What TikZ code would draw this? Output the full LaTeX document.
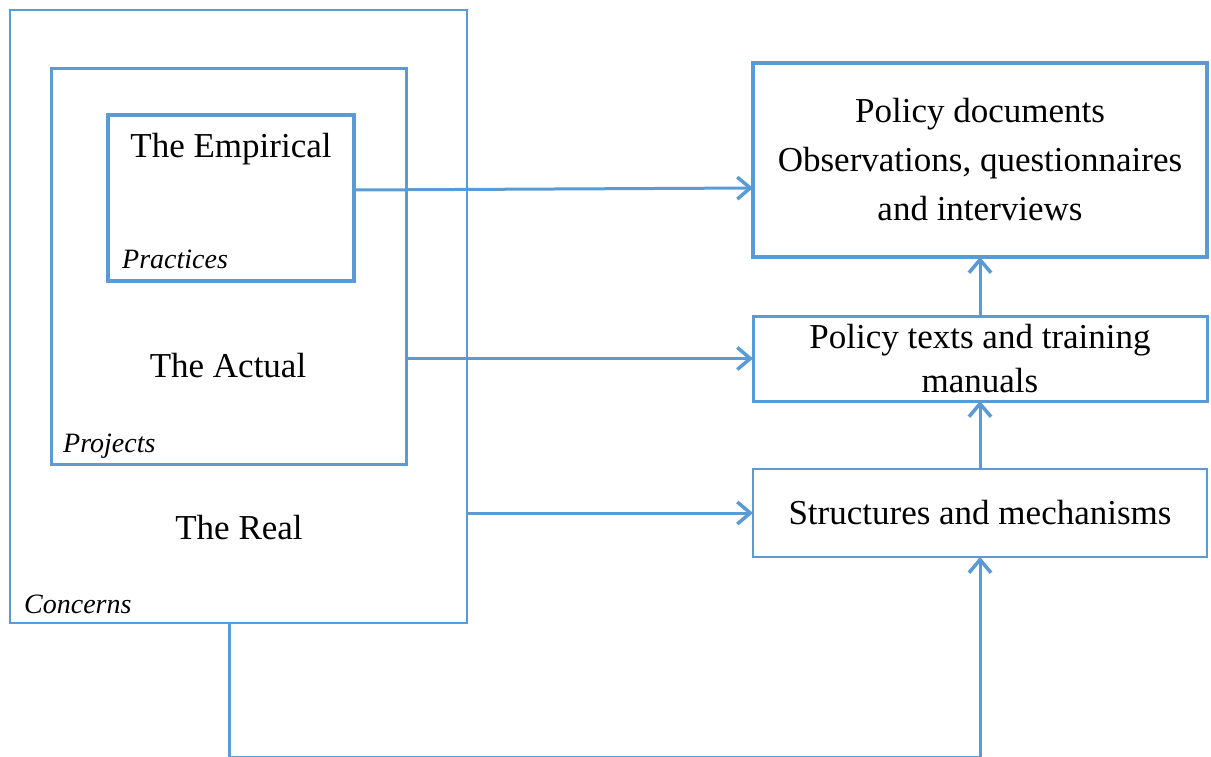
\documentclass[tikz,border=0pt]{standalone}
\usepackage{fontspec}
\setmainfont{Liberation Serif}
\usetikzlibrary{arrows.meta}
\definecolor{frameblue}{HTML}{5B9BD5}
\begin{document}
\begin{tikzpicture}[x=1pt,y=-1pt,
  box/.style={draw=frameblue, rectangle, inner sep=0pt, outer sep=0pt, anchor=north west},
  tbox/.style={box, align=center, font=\fontsize{35}{44}\selectfont},
  lbl/.style={inner sep=0pt, font=\fontsize{35}{40}\selectfont, anchor=base},
  ital/.style={inner sep=0pt, font=\fontsize{28}{32}\selectfont\itshape, anchor=base west},
  conn/.style={draw=frameblue, line width=3pt,
    -{Straight Barb[length=13pt,width=22pt,line width=3.5pt]}}
]
\useasboundingbox (0,0) rectangle (1211,756);

% nested levels of reality
\node[box, line width=1.5pt, minimum width=457pt, minimum height=613pt] (real) at (10,10) {};
\node[box, line width=3pt, minimum width=355pt, minimum height=396pt] (actual) at (51,68) {};
\node[box, line width=4.5pt, minimum width=246pt, minimum height=166pt] (empirical) at (108,115) {};

\node[lbl] (empl) at (231,157) {The Empirical};
\node[lbl] (actl) at (228,377) {The Actual};
\node[lbl] (reall) at (239,539) {The Real};
\node[ital] (practices) at (122,268) {Practices};
\node[ital] (projects) at (63,452) {Projects};
\node[ital] (concerns) at (24,613) {Concerns};

% data sources
\node[tbox, line width=4.5pt, minimum width=454pt, minimum height=194pt,
      font=\fontsize{35}{49}\selectfont] (top) at (753,63)
  {Policy documents\\Observations, questionnaires\\and interviews};
\node[tbox, line width=3pt, minimum width=454pt, minimum height=85pt] (mid) at (753,316)
  {Policy texts and training\\manuals};
\node[tbox, line width=1.5pt, minimum width=454pt, minimum height=88pt] (bot) at (753,469)
  {Structures and mechanisms};

% connectors
\draw[conn] ([yshift=8pt]empirical.east) -- ([yshift=-28pt]top.west);
\draw[conn] (actual.east |- mid.west) -- (mid.west);
\draw[conn] (real.east |- bot.west) -- (bot.west);
\draw[conn] (mid.north) -- (top.south);
\draw[conn] (bot.north) -- (mid.south);
\draw[conn] ([xshift=-9.5pt]real.south) -- ++(0,134.5) -| (bot.south);
\end{tikzpicture}
\end{document}
